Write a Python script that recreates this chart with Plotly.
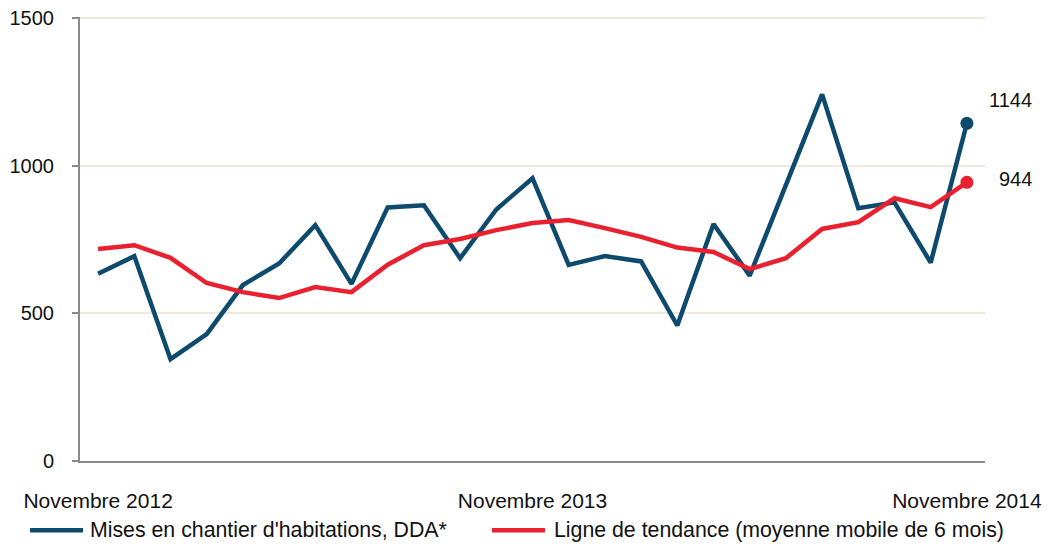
import plotly.graph_objects as go

months = ["nov-12", "déc-12", "jan-13", "fév-13", "mar-13", "avr-13", "mai-13", "jun-13",
          "jul-13", "aoû-13", "sep-13", "oct-13", "nov-13", "déc-13", "jan-14", "fév-14",
          "mar-14", "avr-14", "mai-14", "jun-14", "jul-14", "aoû-14", "sep-14", "oct-14", "nov-14"]
mises = [634, 694, 345, 430, 596, 669, 799, 600, 859, 866, 687, 852, 958, 664, 694, 676,
         459, 803, 628, 930, 1242, 856, 876, 672, 1144]
tendance = [718, 731, 688, 603, 572, 552, 589, 572, 665, 731, 752, 782, 806, 816, 789, 759,
            723, 708, 650, 687, 786, 809, 890, 860, 944]
series_names = ["Mises en chantier d'habitations, DDA*",
                "Ligne de tendance (moyenne mobile de 6 mois)"]
tick_vals = ["nov-12", "nov-13", "nov-14"]
tick_text = ["Novembre 2012", "Novembre 2013", "Novembre 2014"]
y_ticks = [0, 500, 1000, 1500]

BLUE = "#0D4A6E"
RED = "#E8202F"
FONT = "Liberation Sans, Arial, sans-serif"
TXT = "#111111"

fig = go.Figure()
fig.add_trace(go.Scatter(
    x=months, y=mises, mode="lines", name=series_names[0], showlegend=False,
    line=dict(color=BLUE, width=4.5)))
fig.add_trace(go.Scatter(
    x=months, y=tendance, mode="lines", name=series_names[1], showlegend=False,
    line=dict(color=RED, width=4.5)))
# end markers
fig.add_trace(go.Scatter(x=[months[-1]], y=[mises[-1]], mode="markers", showlegend=False,
                         marker=dict(color=BLUE, size=13), hoverinfo="skip"))
fig.add_trace(go.Scatter(x=[months[-1]], y=[tendance[-1]], mode="markers", showlegend=False,
                         marker=dict(color=RED, size=13), hoverinfo="skip"))

# end value labels
fig.add_annotation(x=months[-1], y=mises[-1], text=str(mises[-1]), showarrow=False,
                   xanchor="right", yanchor="middle", xshift=67, yshift=23,
                   font=dict(size=20, color=TXT, family=FONT))
fig.add_annotation(x=months[-1], y=tendance[-1], text=str(tendance[-1]), showarrow=False,
                   xanchor="right", yanchor="middle", xshift=67, yshift=3,
                   font=dict(size=20, color=TXT, family=FONT))

# legend (drawn below the plot)
leg_y = -0.1558
for color, name, x0, x1, xt in [(BLUE, series_names[0], -0.0552, 0.0033, 0.0088),
                                 (RED, series_names[1], 0.4552, 0.5138, 0.5215)]:
    fig.add_shape(type="line", xref="paper", yref="paper", x0=x0, x1=x1, y0=leg_y, y1=leg_y,
                  line=dict(color=color, width=4.5))
    fig.add_annotation(xref="paper", yref="paper", x=xt, y=leg_y, text=name, showarrow=False,
                       xanchor="left", yanchor="middle",
                       font=dict(size=21.3, color=TXT, family=FONT))

fig.update_layout(
    width=1043, height=542,
    margin=dict(l=72, r=66, t=9, b=89),
    paper_bgcolor="white", plot_bgcolor="white",
    font=dict(family=FONT, size=20, color=TXT),
    showlegend=False,
)
fig.update_xaxes(
    type="category", range=[-0.5, 24.5], automargin=False,
    tickvals=tick_vals, ticktext=tick_text, tickfont=dict(size=21, family=FONT, color=TXT),
    showgrid=False, showline=True, linecolor="#8A8A8A", linewidth=2,
    ticks="", zeroline=False, ticklabelstandoff=20, ticklabeloverflow="allow",
)
fig.update_yaxes(
    range=[0, 1504], tickvals=y_ticks, tickfont=dict(size=20, family=FONT, color=TXT),
    showgrid=True, gridcolor="#EDEADB", gridwidth=1.5, automargin=False,
    showline=True, linecolor="#8A8A8A", linewidth=2,
    ticks="outside", ticklen=6, tickcolor="#8A8A8A", tickwidth=2,
    zeroline=False, ticklabelstandoff=14, ticklabeloverflow="allow",
)

fig.write_html("out.html")
